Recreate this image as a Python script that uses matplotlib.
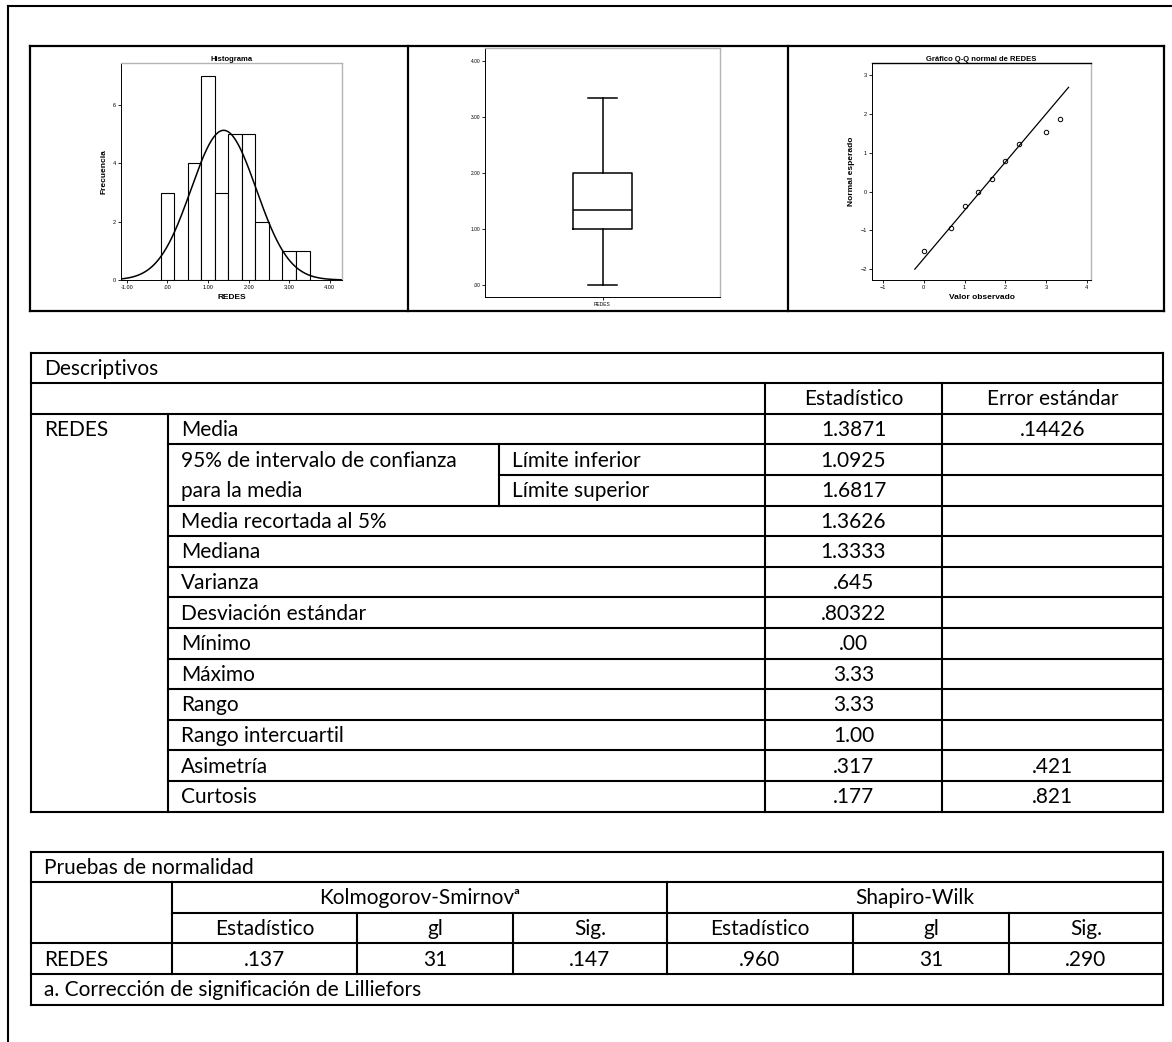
import matplotlib
matplotlib.use("Agg")
import matplotlib.pyplot as plt
import numpy as np
from matplotlib.ticker import FuncFormatter

W, H = 1172, 1042

# distinct REDES values and how often each occurs (n = 31)
levels = [0.0, 0.667, 1.0, 1.333, 1.667, 2.0, 2.333, 3.0, 3.333]
freqs = [3, 4, 7, 3, 5, 5, 2, 1, 1]
# expected normal value for each level
expected_z = [-1.52, -0.94, -0.38, 0.0, 0.33, 0.78, 1.24, 1.55, 1.87]

mean, sd = 1.3871, 0.80322
box_stats = dict(whislo=0.00, q1=1.00, med=1.3333, q3=2.00, whishi=3.33)

# Descriptivos table
desc_labels = ["Media", None, None, "Media recortada al 5%", "Mediana", "Varianza",
               "Desviación estándar", "Mínimo", "Máximo", "Rango",
               "Rango intercuartil", "Asimetría", "Curtosis"]
ci_label = ["95% de intervalo de confianza", "para la media"]
ci_bounds = ["Límite inferior", "Límite superior"]
desc_stat = ["1.3871", "1.0925", "1.6817", "1.3626", "1.3333", ".645", ".80322",
             ".00", "3.33", "3.33", "1.00", ".317", ".177"]
desc_se = [".14426", "", "", "", "", "", "", "", "", "", "", ".421", ".821"]

# Pruebas de normalidad
sub_headers = ["Estadístico", "gl", "Sig."]
ks_values = [".137", "31", ".147"]
sw_values = [".960", "31", ".290"]

TFONT = ["Lato", "DejaVu Sans"]
CFONT = "Liberation Sans"
TSIZE = 15
GRAY = "#b4b4b4"

fig = plt.figure(figsize=(W / 100, H / 100), dpi=100)
ax = fig.add_axes([0, 0, 1, 1])
ax.set_xlim(0, W)
ax.set_ylim(H, 0)
ax.axis("off")


def hline(y, x0, x1, lw=1.5):
    ax.plot([x0, x1], [y, y], color="black", lw=lw, solid_capstyle="projecting")


def vline(x, y0, y1, lw=1.5):
    ax.plot([x, x], [y0, y1], color="black", lw=lw, solid_capstyle="projecting")


def txt(x, y, s, ha="left", size=TSIZE):
    ax.text(x, y, s, ha=ha, va="center", fontsize=size, family=TFONT)


def px_axes(l, t, r, b):
    return fig.add_axes([l / W, 1 - b / H, (r - l) / W, (b - t) / H])


def dec_fmt(v, pos):
    s = f"{v:.2f}"
    return s[1:] if s.startswith("0.") else s


# page frame
hline(5.5, 8, W + 5, lw=1.5)
vline(8, 5.5, H + 5, lw=1.5)

# picture strip
sx = [30, 408, 788, 1164]
st, sb = 46, 311
for x in sx:
    vline(x, st, sb, lw=1.6)
hline(st, sx[0], sx[-1], lw=1.6)
hline(sb, sx[0], sx[-1], lw=1.6)

# ---- Histogram ----
data = np.repeat(levels, freqs)
h = px_axes(121, 63, 342, 280)
edges = np.arange(-1 / 6, 3.6, 1 / 3)
h.hist(data, bins=edges, facecolor="white", edgecolor="black", lw=0.8)
xs = np.linspace(-1.14, 4.3, 300)
bw = 1 / 3
h.plot(xs, len(data) * bw * np.exp(-0.5 * ((xs - mean) / sd) ** 2) / (sd * np.sqrt(2 * np.pi)),
       color="black", lw=1.1)
h.set_xlim(-1.14, 4.3)
h.set_ylim(0, 7.44)
h.set_xticks([-1, 0, 1, 2, 3, 4])
h.set_yticks([0, 2, 4, 6])
h.xaxis.set_major_formatter(FuncFormatter(dec_fmt))
h.set_title("Histograma", fontsize=5.5, fontweight="bold", family=CFONT, pad=1.5)
h.set_xlabel("REDES", fontsize=6, fontweight="bold", family=CFONT, labelpad=3)
h.set_ylabel("Frecuencia", fontsize=6, fontweight="bold", family=CFONT, labelpad=4)

# ---- Boxplot ----
b = px_axes(485, 48, 720, 297)
b.bxp([dict(box_stats, label="REDES")], positions=[1], widths=0.25, capwidths=0.125,
      showfliers=False,
      boxprops=dict(color="black", lw=1.1), medianprops=dict(color="black", lw=1.1),
      whiskerprops=dict(color="black", lw=1.1), capprops=dict(color="black", lw=1.1))
b.set_xlim(0.5, 1.5)
b.set_ylim(-0.21, 4.23)
b.set_yticks([0, 1, 2, 3, 4])
b.yaxis.set_major_formatter(FuncFormatter(dec_fmt))

# ---- Q-Q ----
q = px_axes(872, 63, 1091, 280)
q.plot(levels, expected_z, "o", mfc="none", mec="black", ms=3.2, mew=0.7)
lx = np.array([-0.22, 3.55])
q.plot(lx, (lx - mean) / sd, color="black", lw=0.9)
q.set_xlim(-1.27, 4.1)
q.set_ylim(-2.28, 3.32)
q.set_xticks([-1, 0, 1, 2, 3, 4])
q.set_yticks([-2, -1, 0, 1, 2, 3])
q.set_title("Gráfico Q-Q normal de REDES", fontsize=5.5, fontweight="bold", family=CFONT, pad=1.5)
q.set_xlabel("Valor observado", fontsize=6, fontweight="bold", family=CFONT, labelpad=3)
q.set_ylabel("Normal esperado", fontsize=6, fontweight="bold", family=CFONT, labelpad=4)

for a, size in ((h, 4), (b, 3.5), (q, 4)):
    a.tick_params(labelsize=size, length=2, width=0.6, pad=1.5)
    for lab in a.get_xticklabels() + a.get_yticklabels():
        lab.set_family(CFONT)
    for side in ("left", "bottom"):
        a.spines[side].set_linewidth(0.7)
    for side in ("top", "right"):
        a.spines[side].set_color(GRAY)
        a.spines[side].set_linewidth(1.0)
q.spines["top"].set_color("black")

# ---- Descriptivos ----
rh = 30.6
top = 352.5
ys = [top + k * rh for k in range(16)]
cx = [31, 168, 499, 765, 942, 1163]
pad = 13

hline(ys[0], cx[0], cx[5])
hline(ys[1], cx[0], cx[5])
hline(ys[2], cx[0], cx[5])
hline(ys[15], cx[0], cx[5])
for k in range(3, 15):
    hline(ys[k], cx[2] if k == 4 else cx[1], cx[5])
vline(cx[0], ys[0], ys[15])
vline(cx[5], ys[0], ys[15])
vline(cx[1], ys[2], ys[15])
vline(cx[2], ys[3], ys[5])
vline(cx[3], ys[1], ys[15])
vline(cx[4], ys[1], ys[15])


def mid(k):
    return (ys[k] + ys[k + 1]) / 2 + 1


txt(cx[0] + pad, mid(0), "Descriptivos")
txt((cx[3] + cx[4]) / 2, mid(1), "Estadístico", ha="center")
txt((cx[4] + cx[5]) / 2, mid(1), "Error estándar", ha="center")
txt(cx[0] + pad, mid(2), "REDES")
for i, lab in enumerate(desc_labels):
    k = i + 2
    if lab is not None:
        txt(cx[1] + pad, mid(k), lab)
    txt((cx[3] + cx[4]) / 2, mid(k), desc_stat[i], ha="center")
    if desc_se[i]:
        txt((cx[4] + cx[5]) / 2, mid(k), desc_se[i], ha="center")
for j in range(2):
    txt(cx[1] + pad, mid(3 + j), ci_label[j])
    txt(cx[2] + pad, mid(3 + j), ci_bounds[j])

# ---- Pruebas de normalidad ----
top2 = 851.5
ys = [top2 + k * rh for k in range(6)]
c = [31, 172, 357, 513, 667, 853, 1009, 1163]

hline(ys[0], c[0], c[7])
hline(ys[1], c[0], c[7])
hline(ys[2], c[1], c[7])
hline(ys[3], c[0], c[7])
hline(ys[4], c[0], c[7])
hline(ys[5], c[0], c[7])
vline(c[0], ys[0], ys[5])
vline(c[7], ys[0], ys[5])
vline(c[1], ys[1], ys[4])
vline(c[4], ys[1], ys[4])
for x in (c[2], c[3], c[5], c[6]):
    vline(x, ys[2], ys[4])

txt(c[0] + pad, mid(0), "Pruebas de normalidad")
txt((c[1] + c[4]) / 2, mid(1), "Kolmogorov-Smirnovᵃ", ha="center")
txt((c[4] + c[7]) / 2, mid(1), "Shapiro-Wilk", ha="center")
for j in range(3):
    txt((c[1 + j] + c[2 + j]) / 2, mid(2), sub_headers[j], ha="center")
    txt((c[4 + j] + c[5 + j]) / 2, mid(2), sub_headers[j], ha="center")
    txt((c[1 + j] + c[2 + j]) / 2, mid(3), ks_values[j], ha="center")
    txt((c[4 + j] + c[5 + j]) / 2, mid(3), sw_values[j], ha="center")
txt(c[0] + pad, mid(3), "REDES")
txt(c[0] + pad, mid(4), "a. Corrección de significación de Lilliefors")

fig.savefig("out.png", dpi=100)
